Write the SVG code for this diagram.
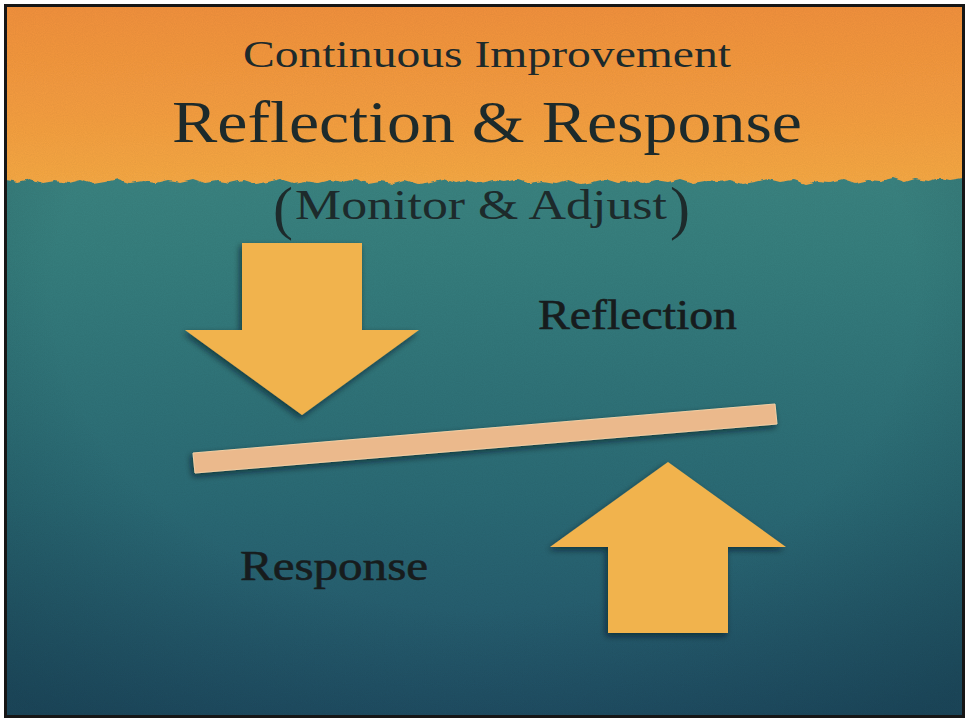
<svg xmlns="http://www.w3.org/2000/svg" width="967" height="721" viewBox="0 0 967 721">
  <defs>
    <style>
      .t { font-family: "Liberation Serif", "DejaVu Serif", serif; fill: #1d2a2b; }
      .lbl { fill: #171c1d; stroke: #171c1d; stroke-width: 0.6; }
      .arrow { fill: #f1b34d; filter: url(#shadow); }
      .bar { fill: #ebb98c; stroke: #f3cfa4; stroke-width: 1; filter: url(#shadow); }
    </style>
    <clipPath id="frame">
      <rect x="6" y="6" width="957" height="710"/>
    </clipPath>
    <linearGradient id="orange" gradientUnits="userSpaceOnUse" x1="0" y1="6" x2="0" y2="186">
      <stop offset="0" stop-color="#f2913c"/>
      <stop offset="0.6" stop-color="#f59e40"/>
      <stop offset="1" stop-color="#f6a944"/>
    </linearGradient>
    <linearGradient id="teal" x1="0" y1="0" x2="0" y2="1">
      <stop offset="0" stop-color="#458d86"/>
      <stop offset="0.35" stop-color="#367f7e"/>
      <stop offset="0.7" stop-color="#2a6a75"/>
      <stop offset="1" stop-color="#22536a"/>
    </linearGradient>
    <radialGradient id="vignette" cx="0.5" cy="0.4" r="0.75">
      <stop offset="0.6" stop-color="#0a2430" stop-opacity="0"/>
      <stop offset="1" stop-color="#0a2430" stop-opacity="0.3"/>
    </radialGradient>
    <filter id="shadow" x="-20%" y="-20%" width="140%" height="140%">
      <feDropShadow dx="-2" dy="3" stdDeviation="3" flood-color="#06161c" flood-opacity="0.6"/>
    </filter>
    <filter id="rough" x="-2%" y="-5%" width="104%" height="110%">
      <feTurbulence type="fractalNoise" baseFrequency="0.1" numOctaves="2" seed="3" result="n"/>
      <feDisplacementMap in="SourceGraphic" in2="n" scale="5" xChannelSelector="R" yChannelSelector="G"/>
    </filter>
    <filter id="grain" x="0" y="0" width="100%" height="100%">
      <feTurbulence type="fractalNoise" baseFrequency="0.9" numOctaves="2" seed="5" result="n"/>
      <feColorMatrix in="n" type="matrix" values="0 0 0 0 0  0 0 0 0 0  0 0 0 0 0  0 0 0 0.06 0"/>
    </filter>
  </defs>

  <rect width="967" height="721" fill="#ffffff"/>

  <g id="background">
    <g clip-path="url(#frame)">
      <rect x="6" y="6" width="957" height="710" fill="url(#teal)"/>
      <rect x="6" y="6" width="957" height="710" fill="url(#vignette)"/>
      <path filter="url(#rough)" fill="url(#orange)" d="M-10,-10 H980 V178 L963,178 L950,180 L940,178 L928,181 L915,179 L905,182 L893,178 L880,181 L868,180 L855,183 L843,179 L830,182 L818,181 L805,184 L793,180 L780,182 L768,179 L755,182 L743,184 L730,180 L718,182 L705,181 L693,183 L680,179 L668,182 L655,180 L643,183 L630,181 L618,183 L605,179 L593,182 L580,184 L568,180 L555,183 L543,181 L530,183 L518,179 L505,182 L493,180 L480,183 L468,181 L455,183 L443,179 L430,182 L418,184 L405,180 L393,183 L380,181 L368,183 L355,179 L343,182 L330,180 L318,183 L305,181 L293,183 L280,179 L268,182 L255,184 L243,180 L230,183 L218,181 L205,183 L193,179 L180,182 L168,180 L155,183 L143,181 L130,183 L118,179 L105,182 L93,184 L80,180 L68,183 L55,181 L43,183 L30,179 L18,182 L6,180 L-10,180 Z"/>
      <rect x="6" y="6" width="957" height="710" filter="url(#grain)"/>
    </g>
    <rect x="5.5" y="5.5" width="958" height="711" fill="none" stroke="#161616" stroke-width="3"/>
  </g>

  <g id="title">
    <text class="t" x="487" y="67" font-size="37" text-anchor="middle" textLength="488" lengthAdjust="spacingAndGlyphs">Continuous Improvement</text>
    <text class="t" x="487" y="142" font-size="60" text-anchor="middle" textLength="630" lengthAdjust="spacingAndGlyphs">Reflection &amp; Response</text>
    <text class="t"><tspan x="273" y="228" font-size="60">(</tspan><tspan x="295" y="219" font-size="42" textLength="372" lengthAdjust="spacingAndGlyphs">Monitor &amp; Adjust</tspan><tspan x="670" y="228" font-size="60">)</tspan></text>
  </g>

  <g id="down-arrow">
    <polygon class="arrow" points="242,243 362,243 362,330 419,330 302,415 185,330 242,330"/>
  </g>

  <g id="up-arrow">
    <polygon class="arrow" points="668,462 786,547 728,547 728,633 608,633 608,547 550,547"/>
  </g>

  <g id="bar">
    <polygon class="bar" points="193,453 775,404 777,424 195,473"/>
  </g>

  <g id="reflection">
    <text class="t lbl" x="538" y="329" font-size="42" textLength="199" lengthAdjust="spacingAndGlyphs">Reflection</text>
  </g>

  <g id="response">
    <text class="t lbl" x="240" y="580" font-size="42" textLength="188" lengthAdjust="spacingAndGlyphs">Response</text>
  </g>

  <g id="connectors"></g>
</svg>
